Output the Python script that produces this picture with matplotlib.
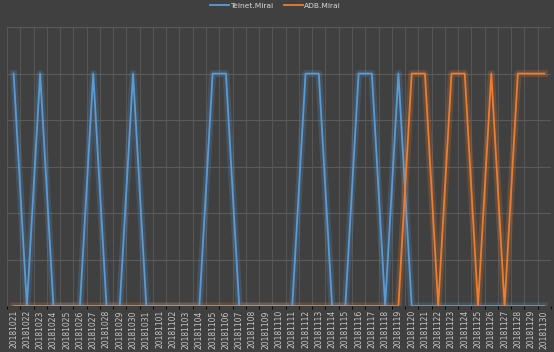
import matplotlib.pyplot as plt
import matplotlib.patheffects as pe
import numpy as np

dates = ["201810%02d" % d for d in range(21, 32)] + ["201811%02d" % d for d in range(1, 31)]

telnet = [1, 0, 1, 0, 0, 0, 1, 0, 0, 1, 0, 0, 0, 0, 0, 1, 1, 0, 0, 0, 0,
          0, 1, 1, 0, 0, 1, 1, 0, 1, 0, 0, 0, 0, 0, 0, 0, 0, 0, 0, 0]
adb = [0, 0, 0, 0, 0, 0, 0, 0, 0, 0, 0, 0, 0, 0, 0, 0, 0, 0, 0, 0, 0,
       0, 0, 0, 0, 0, 0, 0, 0, 0, 1, 1, 0, 1, 1, 0, 1, 0, 1, 1, 1]

bg = '#404040'
blue = '#5B9BD5'
orange = '#ED7D31'

fig = plt.figure(figsize=(5.54, 3.52), dpi=100, facecolor=bg)
ax = fig.add_axes([0.0126, 0.1307, 0.982, 0.7923], facecolor=bg)

x = np.arange(len(dates))
glow = lambda c: [pe.Stroke(linewidth=5, foreground=c, alpha=0.22), pe.Normal()]
ax.plot(x, telnet, color=blue, lw=1.3, label='Telnet.Mirai', path_effects=glow(blue), zorder=3)
ax.plot(x, adb, color=orange, lw=1.3, label='ADB.Mirai', path_effects=glow(orange), zorder=4)

ax.set_xlim(-0.5, len(dates) - 0.5)
ax.set_ylim(0, 1.2)
ax.set_yticks(np.arange(0, 1.21, 0.2))
ax.set_yticklabels([])
ax.set_xticks(x)
ax.set_xticklabels(dates, rotation=90, fontsize=5.5, color='#C8C8C8')
ax.set_xticks(np.arange(-0.5, len(dates), 1), minor=True)
ax.tick_params(axis='both', length=0, pad=3)
ax.tick_params(axis='y', left=False)
ax.grid(axis='y', color='#5A5A5A', lw=0.8)
ax.grid(axis='x', which='minor', color='#555555', lw=0.8)
ax.set_axisbelow(True)
for s in ax.spines.values():
    s.set_visible(False)

leg = fig.legend(loc='upper center', bbox_to_anchor=(0.497, 1.012), ncol=2, frameon=False,
                 fontsize=5.4, handlelength=2.5, handletextpad=0.2, columnspacing=1.4,
                 labelcolor='#D9D9D9')
for h in leg.get_lines():
    h.set_path_effects([])

fig.savefig('out.png', dpi=100, facecolor=bg)
